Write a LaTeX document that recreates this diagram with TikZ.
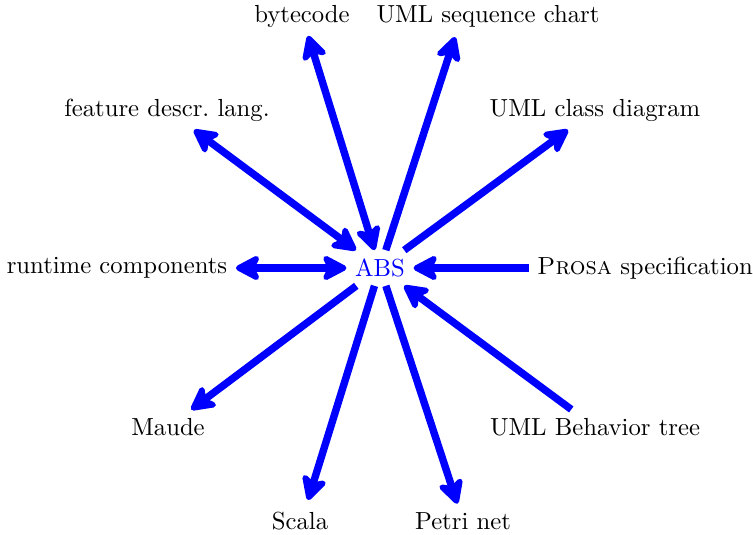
\documentclass[tikz,border=0pt]{standalone}
\usetikzlibrary{arrows.meta}

\tikzset{
  lbl/.style={inner sep=3.33pt},
  hub/.style={inner sep=3.33pt, text=blue},
  link/.style={draw=blue, line width=3pt,
    >={Stealth[round,length=12pt,width=12.5pt,inset=3.2pt]}}
}

\begin{document}
\begin{tikzpicture}[x=0.405pt, y=-0.405pt]
  \useasboundingbox (0,0) rectangle (753,535);

  % central language
  \node[hub] (abs) at (380,268) {ABS};

  % surrounding formalisms and tools
  \node[lbl] (bytecode) at (302,16)  {bytecode};
  \node[lbl] (seq)      at (488,16)  {UML sequence chart};
  \node[lbl] (feature)  at (167,110) {feature descr.\ lang.};
  \node[lbl] (class)    at (595,110) {UML class diagram};
  \node[lbl] (runtime)  at (117,268) {runtime components};
  \node[lbl] (prosa)    at (645,268) {\textsc{Prosa} specification};
  \node[lbl] (maude)    at (168,427) {Maude};
  \node[lbl] (btree)    at (595,427) {UML Behavior tree};
  \node[lbl] (scala)    at (300,521) {Scala};
  \node[lbl] (petri)    at (463,521) {Petri net};

  % arrow ends that sit off the label centres
  \coordinate (seqend)   at (455,37);
  \coordinate (scalaend) at (308,500);

  % translations into and out of ABS
  \draw[link, <->] (abs) -- (bytecode);
  \draw[link, ->]  (abs) -- (seqend);
  \draw[link, <->] (abs) -- (feature);
  \draw[link, ->]  (abs) -- (class);
  \draw[link, <->] (abs) -- (runtime);
  \draw[link, ->]  (prosa) -- (abs);
  \draw[link, ->]  (abs) -- (maude);
  \draw[link, ->]  (btree) -- (abs);
  \draw[link, ->]  (abs) -- (scalaend);
  \draw[link, ->]  (abs) -- (petri);
\end{tikzpicture}
\end{document}
